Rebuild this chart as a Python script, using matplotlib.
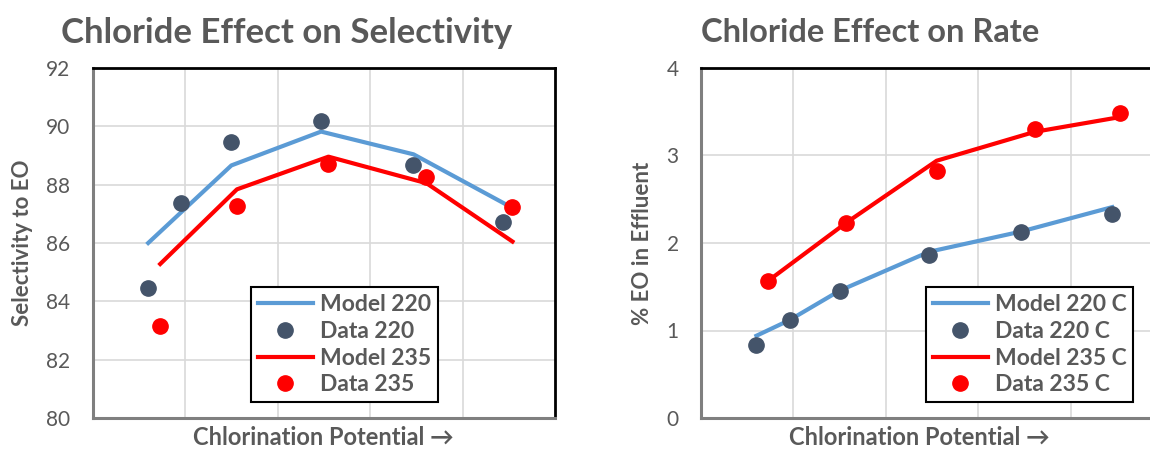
import matplotlib
matplotlib.use("Agg")
import matplotlib.pyplot as plt

plt.rcParams['font.family'] = ['Lato', 'DejaVu Sans']

# ---- Left chart: selectivity ----
sel_model220_x = [0.60, 1.50, 2.47, 3.47, 4.46]
sel_model220_y = [86.0, 88.66, 89.82, 89.04, 87.34]
sel_data220_x = [0.60, 0.96, 1.50, 2.47, 3.46, 4.44]
sel_data220_y = [84.46, 87.36, 89.46, 90.18, 88.69, 86.72]
sel_model235_x = [0.73, 1.56, 2.55, 3.61, 4.54]
sel_model235_y = [85.28, 87.84, 88.96, 88.05, 86.05]
sel_data235_x = [0.73, 1.56, 2.55, 3.61, 4.54]
sel_data235_y = [83.17, 87.27, 88.70, 88.25, 87.25]
sel_yticks = [80, 82, 84, 86, 88, 90, 92]

# ---- Right chart: rate ----
rate_model220_x = [0.60, 0.96, 1.50, 2.47, 3.46, 4.45]
rate_model220_y = [0.94, 1.12, 1.455, 1.90, 2.13, 2.41]
rate_data220_x = [0.60, 0.96, 1.50, 2.47, 3.46, 4.45]
rate_data220_y = [0.84, 1.12, 1.455, 1.86, 2.13, 2.33]
rate_model235_x = [0.73, 1.57, 2.55, 3.61, 4.54]
rate_model235_y = [1.57, 2.23, 2.94, 3.27, 3.44]
rate_data235_x = [0.73, 1.57, 2.55, 3.61, 4.54]
rate_data235_y = [1.57, 2.23, 2.82, 3.30, 3.48]
rate_yticks = [0, 1, 2, 3, 4]

BLUE = '#5B9BD5'
DARK = '#44546A'
RED = '#FF0000'
GRAY = '#595959'

fig = plt.figure(figsize=(11.5, 4.55), dpi=100)
ax1 = fig.add_axes([92.7/1150, 1-418/455, 462.3/1150, 350/455])
ax2 = fig.add_axes([701/1150, 1-418/455, 462/1150, 350/455])


def style(ax, yticks, ylab, ylabx, labels, leg_anchor):
    ax.set_xlim(0, 5)
    ax.set_ylim(yticks[0], yticks[-1])
    ax.set_xticks([1, 2, 3, 4])
    ax.set_xticklabels([])
    ax.set_yticks(yticks)
    ax.set_yticklabels([str(t) for t in yticks])
    ax.grid(True, color='#d9d9d9', lw=1.2, zorder=0)
    ax.set_axisbelow(True)
    ax.tick_params(axis='both', length=0, labelsize=15, labelcolor=GRAY, pad=16)
    for s in ['left', 'bottom']:
        ax.spines[s].set_color('#7f7f7f')
        ax.spines[s].set_linewidth(2.2)
    for s in ['top', 'right']:
        ax.spines[s].set_color('black')
        ax.spines[s].set_linewidth(2.0)
    ax.set_ylabel(ylab, fontsize=16, fontweight='bold', color=GRAY)
    ax.yaxis.set_label_coords(ylabx, 0.5)
    leg = ax.legend(labels, loc='lower left', bbox_to_anchor=leg_anchor,
                    prop={'size': 16.5, 'weight': 'bold'}, labelcolor=GRAY,
                    frameon=True, fancybox=False, handlelength=2.4,
                    handletextpad=0.3, labelspacing=0.25, borderpad=0.3,
                    borderaxespad=0)
    leg.get_frame().set_edgecolor('black')
    leg.get_frame().set_linewidth(1.5)
    leg.get_frame().set_facecolor('white')
    leg.get_frame().set_alpha(1)


ax1.plot(sel_model220_x, sel_model220_y, color=BLUE, lw=3, zorder=3)
ax1.plot(sel_data220_x, sel_data220_y, 'o', color=DARK, ms=11, zorder=4)
ax1.plot(sel_model235_x, sel_model235_y, color=RED, lw=3, zorder=3)
ax1.plot(sel_data235_x, sel_data235_y, 'o', color=RED, ms=11, zorder=4)
style(ax1, sel_yticks, 'Selectivity to EO', -0.129,
      ['Model 220', 'Data 220', 'Model 235', 'Data 235'], (0.342, 0.045))

ax2.plot(rate_model220_x, rate_model220_y, color=BLUE, lw=3, zorder=3)
ax2.plot(rate_data220_x, rate_data220_y, 'o', color=DARK, ms=11, zorder=4)
ax2.plot(rate_model235_x, rate_model235_y, color=RED, lw=3, zorder=3)
ax2.plot(rate_data235_x, rate_data235_y, 'o', color=RED, ms=11, zorder=4)
style(ax2, rate_yticks, '% EO in Effluent', -0.104,
      ['Model 220 C', 'Data 220 C', 'Model 235 C', 'Data 235 C'], (0.487, 0.045))

fig.text(287/1150, 1-43/455, 'Chloride Effect on Selectivity', ha='center',
         va='baseline', fontsize=25, fontweight='bold', color=GRAY)
fig.text(870.5/1150, 1-42/455, 'Chloride Effect on Rate', ha='center',
         va='baseline', fontsize=23.5, fontweight='bold', color=GRAY)
fig.text(323/1150, 1-445/455, 'Chlorination Potential \u2192', ha='center',
         va='baseline', fontsize=17, fontweight='bold', color=GRAY)
fig.text(919/1150, 1-445/455, 'Chlorination Potential \u2192', ha='center',
         va='baseline', fontsize=17, fontweight='bold', color=GRAY)

fig.savefig('out.png', dpi=100, facecolor='white')
